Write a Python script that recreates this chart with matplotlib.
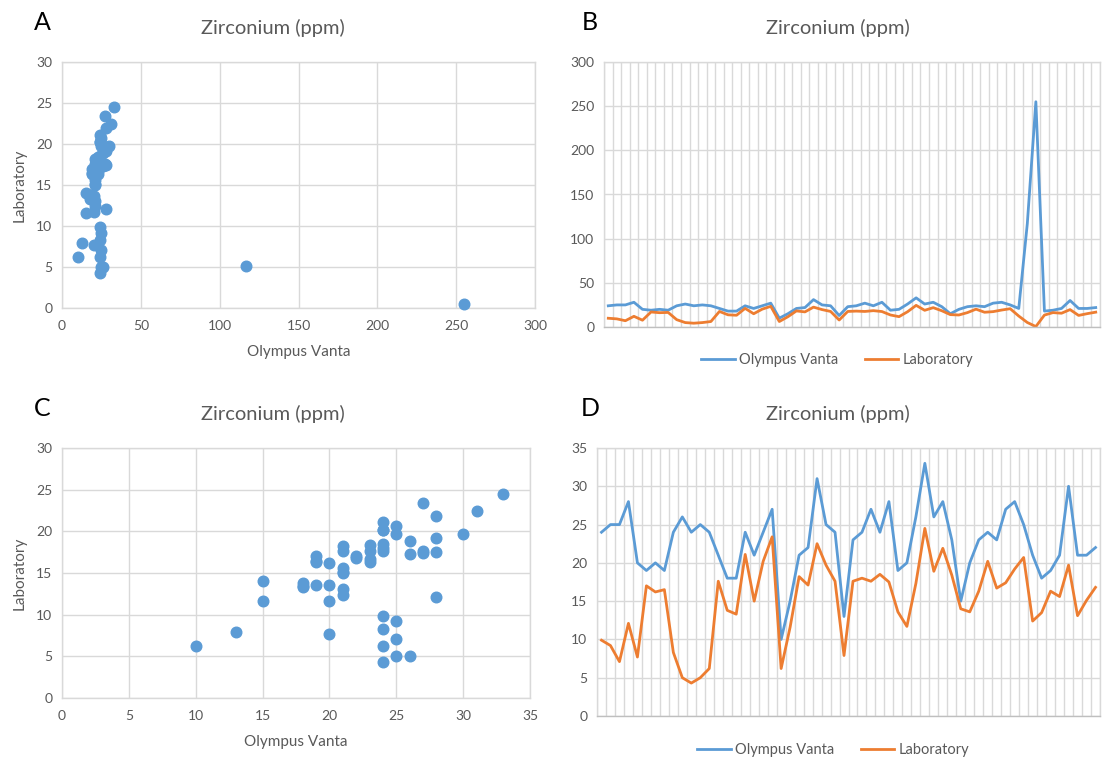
import numpy as np
import matplotlib
matplotlib.use('Agg')
import matplotlib.pyplot as plt

plt.rcParams['font.family'] = ['Lato', 'DejaVu Sans']

# Zirconium (ppm) readings, in sample order (two outliers included)
olympus = np.array([24, 25, 25, 28, 20, 19, 20, 19, 24, 26, 24, 25, 24, 21, 18, 18,
                    24, 21, 24, 27, 10, 15, 21, 22, 31, 25, 24, 13, 23, 24, 27, 24,
                    28, 19, 20, 26, 33, 26, 28, 23, 15, 20, 23, 24, 23, 27, 28, 25,
                    21, 117, 255, 18, 19, 21, 30, 21, 21, 22])
laboratory = np.array([9.9, 9.2, 7.1, 12.1, 7.7, 17.0, 16.2, 16.5, 8.3, 5.0, 4.3, 5.0,
                       6.2, 17.6, 13.8, 13.3, 21.1, 15.0, 20.2, 23.4, 6.2, 11.6, 18.2,
                       17.1, 22.5, 19.7, 17.6, 7.9, 17.6, 18.0, 17.6, 18.5, 17.5, 13.6,
                       11.7, 17.3, 24.5, 18.9, 21.9, 18.4, 14.0, 13.6, 16.3, 20.2, 16.7,
                       17.4, 19.2, 20.7, 12.4, 5.1, 0.5, 13.5, 16.3, 15.6, 19.7, 13.1,
                       15.1, 16.8])

# without the two outliers
keep = olympus < 100
olympus_c = olympus[keep]
laboratory_c = laboratory[keep]

blue = '#5B9BD5'
orange = '#ED7D31'
grid = '#D9D9D9'
txt = '#595959'

W, H = 1102, 758
fig = plt.figure(figsize=(W / 100, H / 100), dpi=100)


def rect(l, t, r, b):
    return [l / W, 1 - b / H, (r - l) / W, (b - t) / H]


def style(ax):
    for s in ax.spines.values():
        s.set_color(grid)
        s.set_linewidth(1)
    ax.tick_params(length=0, labelsize=10, labelcolor=txt)
    ax.tick_params(axis='x', pad=9)
    ax.tick_params(axis='y', pad=7)
    ax.grid(True, color=grid, linewidth=1)
    ax.set_axisbelow(True)


def scatter_panel(box, x, y, xmax, xstep, letter, cx):
    ax = fig.add_axes(rect(*box))
    style(ax)
    ax.scatter(x, y, s=58, color=blue, zorder=3, clip_on=False)
    ax.set_xlim(0, xmax)
    ax.set_ylim(0, 30)
    ax.set_xticks(np.arange(0, xmax + 1, xstep))
    ax.set_yticks(np.arange(0, 31, 5))
    ax.set_xlabel('Olympus Vanta', fontsize=11, color=txt, labelpad=9)
    ax.set_ylabel('Laboratory', fontsize=11, color=txt, labelpad=7)
    fig.text(cx / W, 1 - (box[1] - 34) / H, 'Zirconium (ppm)', fontsize=14.5,
             color=txt, ha='center', va='center')
    fig.text(42 / W, 1 - (box[1] - 40) / H, letter, fontsize=18, color='black',
             ha='center', va='center')
    return ax


def line_panel(box, a, b, ymax, ystep, letter, cx, legend_y):
    ax = fig.add_axes(rect(*box))
    style(ax)
    n = len(a)
    xs = np.arange(n)
    ax.plot(xs, a, color=blue, lw=2, label='Olympus Vanta', solid_joinstyle='round')
    ax.plot(xs, b, color=orange, lw=2, label='Laboratory', solid_joinstyle='round')
    ax.set_xlim(-0.5, n - 0.5)
    ax.set_ylim(0, ymax)
    ax.set_xticks(np.arange(n + 1) - 0.5)
    ax.set_xticklabels([])
    ax.set_yticks(np.arange(0, ymax + 1, ystep))
    ax.spines['bottom'].set_color('#BFBFBF')
    ax.legend(loc='center', bbox_to_anchor=(0.47, 1 - (legend_y - box[1]) / (box[3] - box[1])),
              ncol=2, frameon=False, fontsize=10.5, labelcolor=txt, handlelength=2.3,
              handletextpad=0.3, columnspacing=1.8)
    fig.text(cx / W, 1 - (box[1] - 34) / H, 'Zirconium (ppm)', fontsize=14.5,
             color=txt, ha='center', va='center')
    fig.text(590 / W, 1 - (box[1] - 40) / H, letter, fontsize=18, color='black',
             ha='center', va='center')
    return ax


scatter_panel((62, 62, 535, 308), olympus, laboratory, 300, 50, 'A', 273)
line_panel((604, 62, 1100, 327), olympus, laboratory, 300, 50, 'B', 838, 360)
scatter_panel((62, 448, 530, 698), olympus_c, laboratory_c, 35, 5, 'C', 273)
line_panel((597, 448, 1100, 716), olympus_c, laboratory_c, 35, 5, 'D', 838, 750)

fig.savefig('out.png', dpi=100, facecolor='white')
